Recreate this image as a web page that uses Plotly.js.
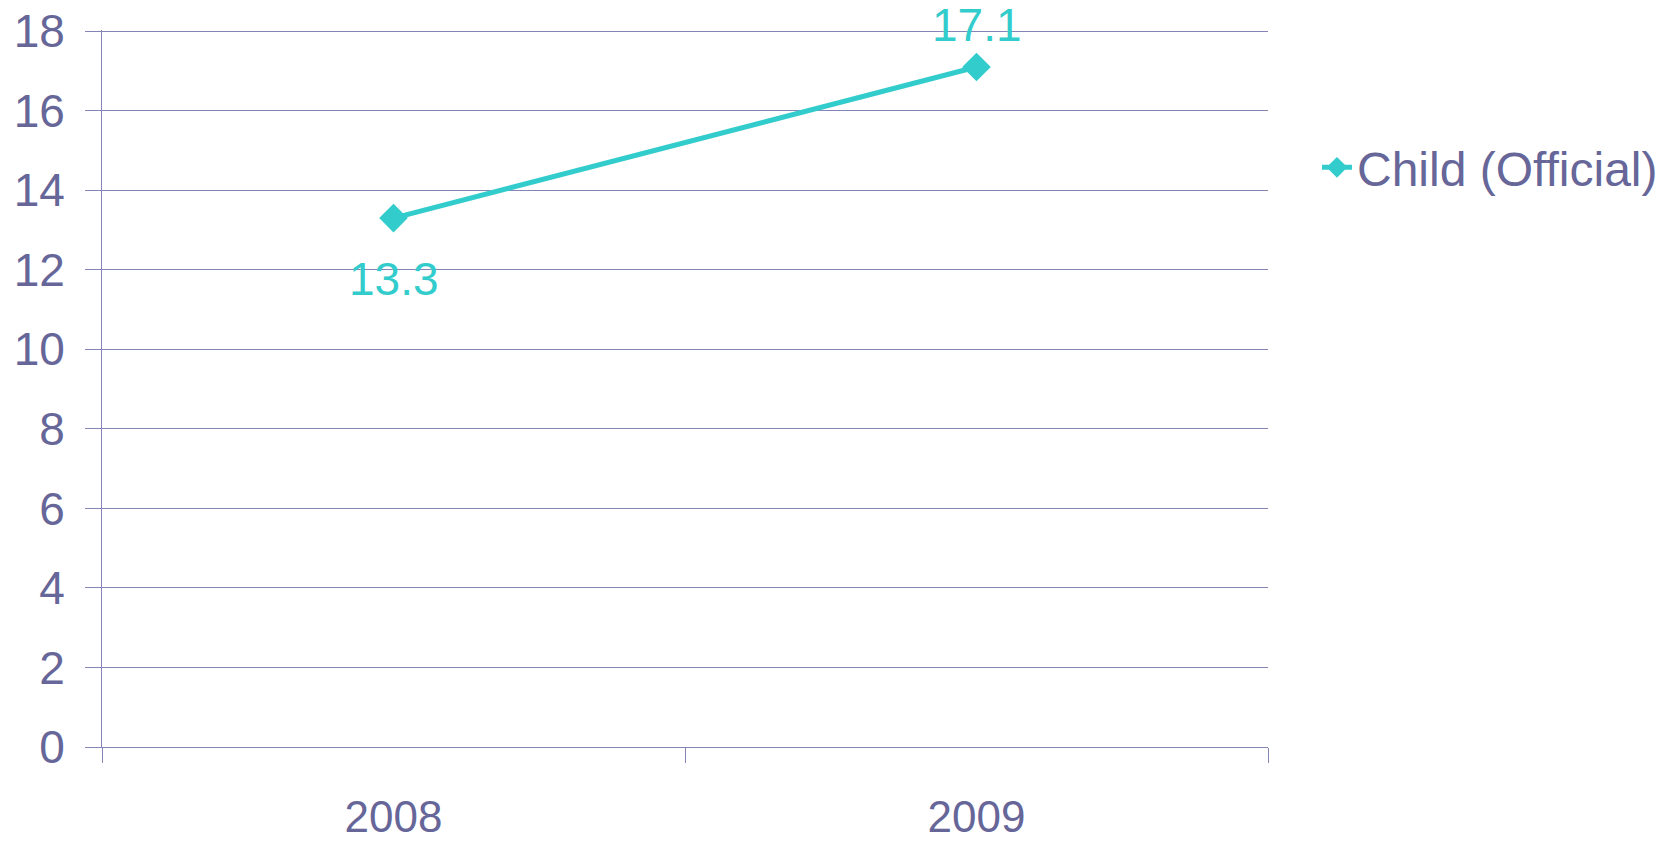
<!DOCTYPE html>
<html>
<head>
<meta charset="utf-8">
<script src="https://cdn.plot.ly/plotly-3.0.1.min.js"></script>
<style>html,body{margin:0;padding:0;background:#fff;}#chart{width:1670px;height:842px;}</style>
</head>
<body>
<div id="chart"></div>
<script>
const categories = ['2008', '2009'];
const seriesName = 'Child (Official)';
const values = [13.3, 17.1];
const labelShifts = [-61, 42];
const yTicks = [0, 2, 4, 6, 8, 10, 12, 14, 16, 18];

const textColor = '#666699';
const gridColor = '#8585B5';
const lineColor = '#33CCCC';
const fontFamily = '"Liberation Sans", Arial, sans-serif';

const trace = {
  type: 'scatter',
  mode: 'lines+markers',
  name: seriesName,
  x: categories,
  y: values,
  line: {color: lineColor, width: 5},
  marker: {symbol: 'diamond', size: 22, color: lineColor},
  cliponaxis: false
};

// on a category axis annotations take the category index
const annotations = categories.map((c, i) => ({
  x: i, y: values[i], xref: 'x', yref: 'y',
  text: values[i].toFixed(1),
  showarrow: false,
  yshift: labelShifts[i],
  font: {family: fontFamily, size: 46, color: lineColor}
}));

const layout = {
  width: 1670,
  height: 842,
  margin: {l: 102, r: 402, t: 30, b: 95, autoexpand: false},
  paper_bgcolor: '#ffffff',
  plot_bgcolor: '#ffffff',
  font: {family: fontFamily, size: 46, color: textColor},
  showlegend: true,
  annotations: annotations,
  legend: {
    x: 1.042, xanchor: 'left', y: 0.808, yanchor: 'middle',
    font: {family: fontFamily, size: 48, color: textColor},
    bgcolor: 'rgba(0,0,0,0)'
  },
  xaxis: {
    type: 'category',
    range: [-0.5, 1.5],
    tickson: 'boundaries',
    ticks: 'outside',
    ticklen: 15,
    tickwidth: 1,
    tickcolor: gridColor,
    showgrid: false,
    showline: true,
    linecolor: gridColor,
    linewidth: 1,
    zeroline: false,
    ticklabelstandoff: 31,
    tickfont: {family: fontFamily, size: 44, color: textColor}
  },
  yaxis: {
    range: [0, 18.03],
    tickvals: yTicks,
    ticks: 'outside',
    ticklen: 16,
    tickwidth: 1,
    tickcolor: gridColor,
    showgrid: true,
    gridcolor: gridColor,
    gridwidth: 1,
    showline: true,
    linecolor: gridColor,
    linewidth: 1,
    zeroline: false,
    ticklabelstandoff: 11,
    tickfont: {family: fontFamily, size: 46, color: textColor}
  }
};

Plotly.newPlot('chart', [trace], layout, {displayModeBar: false, staticPlot: true});
</script>
</body>
</html>
